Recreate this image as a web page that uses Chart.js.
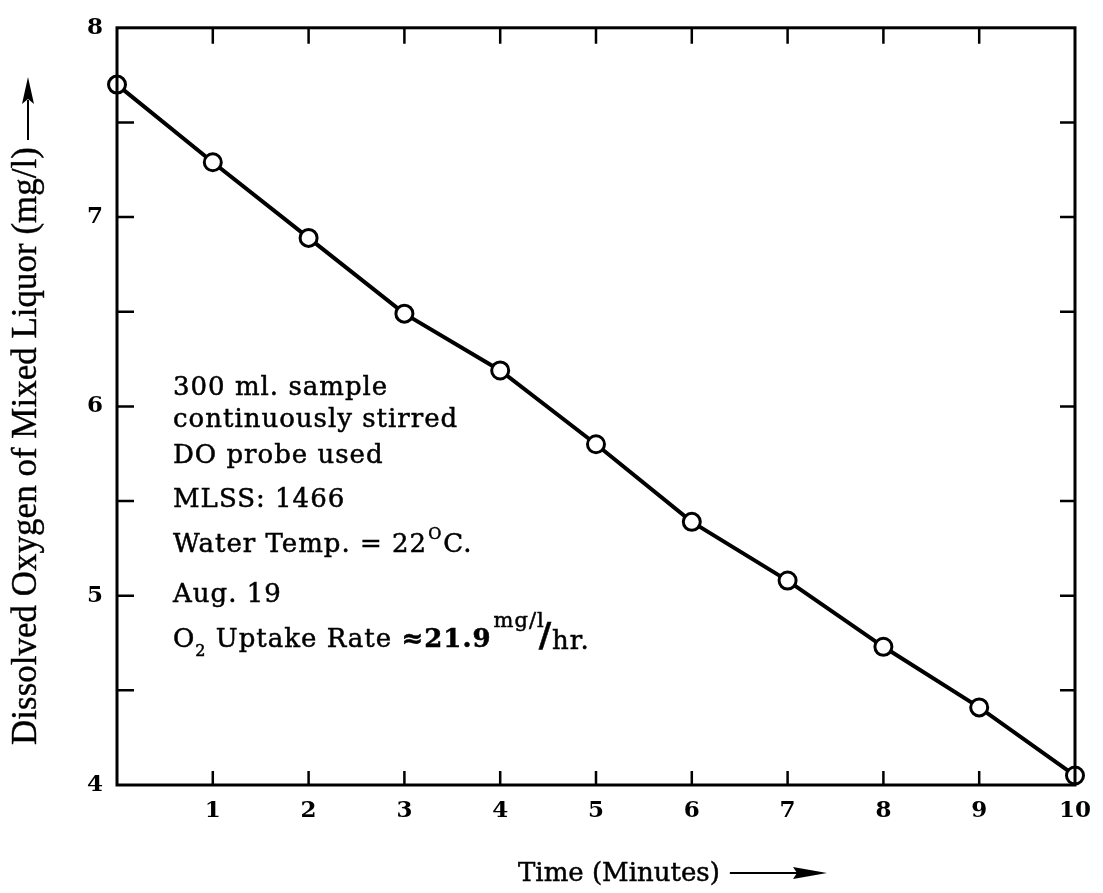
<!DOCTYPE html>
<html>
<head>
<meta charset="utf-8">
<script src="https://cdn.jsdelivr.net/npm/chart.js@4.4.1/dist/chart.umd.min.js"></script>
<style>
  html, body { margin: 0; padding: 0; background: #fff; }
  #wrap { width: 1103px; height: 893px; }
</style>
</head>
<body>
<div id="wrap"><canvas id="chartDO"></canvas></div>
<script>
// values
const minutes = [0, 1, 2, 3, 4, 5, 6, 7, 8, 9, 10];
const dissolvedO2 = [7.7, 7.29, 6.89, 6.49, 6.19, 5.8, 5.39, 5.08, 4.73, 4.41, 4.05];

const xTickValues = [1, 2, 3, 4, 5, 6, 7, 8, 9];
const yTickValues = [4.5, 5, 5.5, 6, 6.5, 7, 7.5];

const notes = ['300 ml. sample', 'continuously stirred', 'DO probe used', 'MLSS: 1466'];
const tempNote = ['Water Temp. = 22', 'O', 'C.'];
const dateNote = 'Aug. 19';
const rateNote = ['O', '2', ' Uptake Rate ', '\u224821.9', 'mg/l', '/', 'hr.'];

const xTitle = 'Time (Minutes)';
const yTitle = 'Dissolved Oxygen of Mixed Liquor (mg/l)';

const SERIF = '"DejaVu Serif", serif';

const ctx = document.getElementById('chartDO').getContext('2d');

// text with a faint outline so it reads as heavy as the print
function put(c, text, x, y, font) {
    c.font = font;
    c.fillText(text, x, y);
    c.strokeText(text, x, y);
    return x + c.measureText(text).width;
}

const paperPlugin = {
    id: 'paper',
    afterDatasetsDraw(chart) {
        const c = chart.ctx;
        const a = chart.chartArea;
        const xs = chart.scales.x, ys = chart.scales.y;
        c.save();
        c.strokeStyle = '#000';
        c.lineWidth = 3;
        c.strokeRect(a.left, a.top, a.right - a.left, a.bottom - a.top);

        // inward tick marks on all four sides
        c.lineWidth = 2.5;
        c.beginPath();
        xTickValues.forEach(v => {
            const px = xs.getPixelForValue(v);
            c.moveTo(px, a.bottom); c.lineTo(px, a.bottom - 14);
            c.moveTo(px, a.top); c.lineTo(px, a.top + 16);
        });
        yTickValues.forEach(v => {
            const py = ys.getPixelForValue(v);
            c.moveTo(a.left, py); c.lineTo(a.left + 17, py);
            c.moveTo(a.right, py); c.lineTo(a.right - 15, py);
        });
        c.stroke();
        c.restore();
    },
    afterDraw(chart) {
        const c = chart.ctx;
        c.save();
        c.fillStyle = '#000';
        c.strokeStyle = '#000';
        c.lineWidth = 0.5;
        c.textAlign = 'left';
        c.textBaseline = 'alphabetic';
        c.letterSpacing = '1px';
        const big = '26px ' + SERIF;
        const small = '16px ' + SERIF;

        const left = 173;
        const rows = [395, 427, 463, 507];
        notes.forEach((t, i) => put(c, t, left, rows[i], big));

        let x = put(c, tempNote[0], left, 552, big);
        x = put(c, tempNote[1], x + 1, 539, small);
        put(c, tempNote[2], x + 1, 552, big);

        put(c, dateNote, left, 602, big);

        x = put(c, rateNote[0], left, 647, big);
        x = put(c, rateNote[1], x, 656, small);
        x = put(c, rateNote[2], x, 647, big);
        x = put(c, rateNote[3], x, 647, 'bold 26px ' + SERIF);
        x = put(c, rateNote[4], x + 2, 627, '21px ' + SERIF);
        x = put(c, rateNote[5], x - 6, 647, 'bold 34px ' + SERIF);
        put(c, rateNote[6], x, 649, big);

        // x axis title with arrow
        c.letterSpacing = '0px';
        x = put(c, xTitle, 518, 881, '26px ' + SERIF);
        c.lineWidth = 2;
        c.beginPath();
        c.moveTo(x + 10, 873); c.lineTo(800, 873);
        c.stroke();
        c.beginPath();
        c.moveTo(827, 873); c.lineTo(793, 867); c.lineTo(797, 873); c.lineTo(793, 879);
        c.closePath();
        c.fill();

        // y axis title with arrow
        c.save();
        c.translate(27, 446);
        c.rotate(-Math.PI / 2);
        c.textAlign = 'center';
        c.textBaseline = 'middle';
        c.lineWidth = 0.4;
        put(c, yTitle, 0, 0, '35px "Liberation Serif", serif');
        c.restore();
        c.lineWidth = 2;
        c.beginPath();
        c.moveTo(28, 140); c.lineTo(28, 100);
        c.stroke();
        c.beginPath();
        c.moveTo(28, 77); c.lineTo(22, 104); c.lineTo(28, 99); c.lineTo(34, 104);
        c.closePath();
        c.fill();
        c.restore();
    }
};

new Chart(ctx, {
    type: 'line',
    data: {
        datasets: [{
            data: minutes.map((m, i) => ({ x: m, y: dissolvedO2[i] })),
            borderColor: '#000',
            borderWidth: 4,
            pointRadius: 8.5,
            pointBorderWidth: 3,
            pointBackgroundColor: '#fff',
            pointBorderColor: '#000',
            tension: 0,
            clip: false
        }]
    },
    options: {
        animation: false,
        responsive: true,
        maintainAspectRatio: false,
        layout: { padding: { top: 22, right: 27, left: 0, bottom: 0 } },
        plugins: { legend: { display: false }, tooltip: { enabled: false } },
        scales: {
            x: {
                type: 'linear',
                min: 0, max: 10,
                afterFit: s => { s.height = 108; },
                grid: { display: true, drawOnChartArea: false, drawTicks: false, color: 'transparent' },
                border: { display: false },
                ticks: {
                    stepSize: 1,
                    padding: 12,
                    color: '#000',
                    font: { family: SERIF, size: 23, weight: 'bold' },
                    callback: v => (v === 0 ? '' : v)
                }
            },
            y: {
                min: 4, max: 8,
                afterFit: s => { s.width = 117; },
                grid: { display: true, drawOnChartArea: false, drawTicks: false, color: 'transparent' },
                border: { display: false },
                ticks: {
                    stepSize: 0.5,
                    autoSkip: false,
                    padding: 14,
                    color: '#000',
                    font: { family: SERIF, size: 23, weight: 'bold' },
                    callback: v => (Number.isInteger(v) ? v : '')
                }
            }
        }
    },
    plugins: [paperPlugin]
});
</script>
</body>
</html>
